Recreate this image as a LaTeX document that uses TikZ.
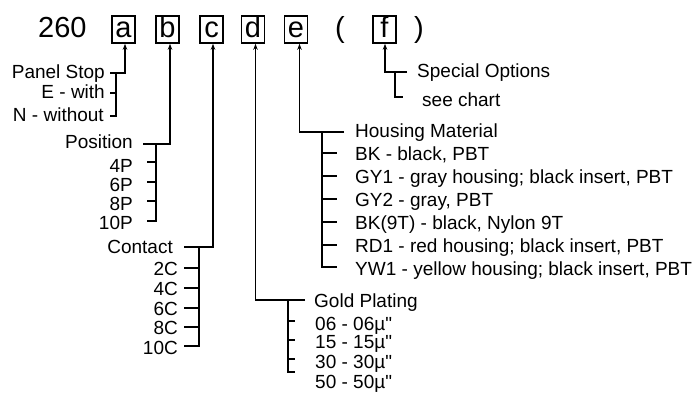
\documentclass[tikz,border=0pt]{standalone}
\usepackage{fontspec}
\setmainfont{Liberation Sans}[Ligatures=TeXOff]
\usetikzlibrary{arrows.meta}
\begin{document}
\begin{tikzpicture}[x=1pt,y=-1pt,
  lbl/.style={inner sep=0pt, font=\fontsize{19}{20}\selectfont},
  lr/.style={lbl, anchor=base east},
  ll/.style={lbl, anchor=base west},
  big/.style={inner sep=0pt, font=\fontsize{29}{32}\selectfont},
  codebox/.style={big, draw, line width=1.6pt, minimum width=23pt, text height=21pt, text depth=6pt, anchor=base},
  ln/.style={line width=1.6pt},
  arr/.style={line width=1.6pt, -{Stealth[length=6pt,width=4.5pt]}}]
\useasboundingbox (0,0) rectangle (695,392);

% code line
\node[big, anchor=base west] (code) at (38,37) {260};
\node[codebox] (ba) at (123.5,37) {a};
\node[codebox] (bb) at (167.5,37) {b};
\node[codebox] (bc) at (211.5,37) {c};
\node[codebox] (bd) at (253,37) {d};
\node[codebox] (be) at (296,37) {e};
\node[big, anchor=base] (lp) at (340,37) {(};
\node[codebox] (bf) at (384.5,37) {f};
\node[big, anchor=base] (rp) at (419,37) {)};

% a : Panel Stop
\node[lr] (ps) at (105,78) {Panel Stop};
\node[lr] (pse) at (105,98) {E - with};
\node[lr] (psn) at (104,121) {N - without};
\coordinate (a0) at (110,73);
\coordinate (a1) at (125,73);
\draw[arr] (a0) -- (a1) -- (a1 |- ba.south);
\coordinate (a2) at (116,73);
\coordinate (a3) at (116,116);
\draw[ln] (a2) -- (a3) -- (110,116);
\draw[ln] (110,93) -- (116,93);

% b : Position
\node[lr] (pos) at (133,148) {Position};
\node[lr] (p4) at (133,172) {4P};
\node[lr] (p6) at (133,191) {6P};
\node[lr] (p8) at (133,210) {8P};
\node[lr] (p10) at (133,229) {10P};
\coordinate (b0) at (143,144);
\coordinate (b1) at (170,144);
\draw[arr] (b0) -- (b1) -- (b1 |- bb.south);
\coordinate (b2) at (156,144);
\coordinate (b3) at (156,221);
\draw[ln] (b2) -- (b3) -- (147,221);
\foreach \y in {162,182,201} \draw[ln] (147,\y) -- (156,\y);

% c : Contact
\node[lr] (con) at (173,253) {Contact};
\node[lr] (c2) at (178,275) {2C};
\node[lr] (c4) at (178,295) {4C};
\node[lr] (c6) at (178,315) {6C};
\node[lr] (c8) at (178,334) {8C};
\node[lr] (c10) at (178,354) {10C};
\coordinate (c0) at (184,247);
\coordinate (c1) at (213,247);
\draw[arr] (c0) -- (c1) -- (c1 |- bc.south);
\coordinate (c2p) at (199,247);
\coordinate (c3p) at (199,346);
\draw[ln] (c2p) -- (c3p) -- (184,346);
\foreach \y in {268,288,308,327} \draw[ln] (184,\y) -- (199,\y);

% d : Gold Plating
\node[ll] (gold) at (314,307) {Gold Plating};
\node[ll] (g06) at (315,330) {06 - 06µ"};
\node[ll] (g15) at (315,348) {15 - 15µ"};
\node[ll] (g30) at (315,368) {30 - 30µ"};
\node[ll] (g50) at (315,388) {50 - 50µ"};
\coordinate (d0) at (305,300);
\coordinate (d1) at (255.5,300);
\draw[arr] (d0) -- (d1) -- (d1 |- bd.south);
\coordinate (d2) at (288,300);
\coordinate (d3) at (288,372);
\draw[ln] (d2) -- (d3) -- (295,372);
\foreach \y in {321,340,359} \draw[ln] (288,\y) -- (295,\y);

% e : Housing Material
\node[ll] (hm) at (355,137) {Housing Material};
\node[ll] (h1) at (355,160) {BK - black, PBT};
\node[ll] (h2) at (355,183) {GY1 - gray housing; black insert, PBT};
\node[ll] (h3) at (355,206) {GY2 - gray, PBT};
\node[ll] (h4) at (355,229) {BK(9T) - black, Nylon 9T};
\node[ll] (h5) at (355,252) {RD1 - red housing; black insert, PBT};
\node[ll] (h6) at (355,275) {YW1 - yellow housing; black insert, PBT};
\coordinate (e0) at (344,132);
\coordinate (e1) at (299.5,132);
\draw[arr] (e0) -- (e1) -- (e1 |- be.south);
\coordinate (e2) at (322,132);
\coordinate (e3) at (322,267);
\draw[ln] (e2) -- (e3) -- (337,267);
\foreach \y in {153,176,199,222,245} \draw[ln] (322,\y) -- (337,\y);

% f : Special Options
\node[ll] (so) at (417,77) {Special Options};
\node[ll] (sc) at (422,106) {see chart};
\coordinate (f0) at (407,72);
\coordinate (f1) at (385,72);
\draw[arr] (f0) -- (f1) -- (f1 |- bf.south);
\coordinate (f2) at (395,72);
\coordinate (f3) at (395,97);
\draw[ln] (f2) -- (f3) -- (403,97);
\end{tikzpicture}
\end{document}
